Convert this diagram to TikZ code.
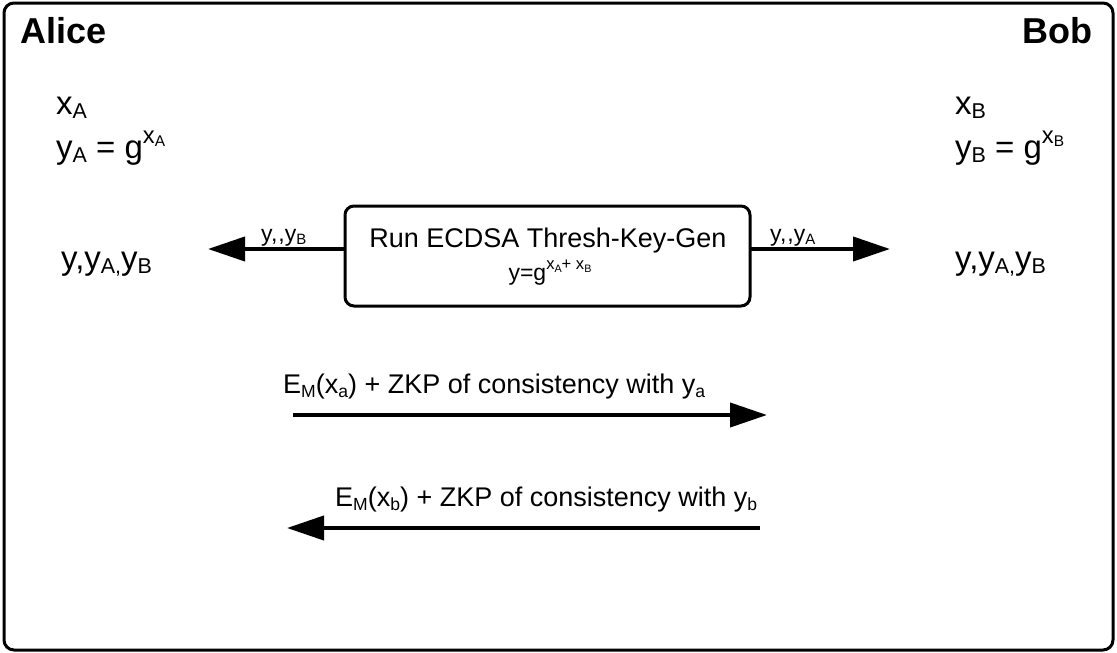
\documentclass[tikz,border=0pt]{standalone}
\usepackage{fontspec}
\usepackage{graphicx}
\setmainfont{Liberation Sans}
\usetikzlibrary{arrows.meta}
% lowered / raised smaller text for indices and exponents
\newcommand{\sbs}[1]{\raisebox{-0.15em}{\scalebox{0.65}{#1}}}
\newcommand{\sps}[1]{\raisebox{0.45em}{\scalebox{0.72}{#1}}}
\tikzset{
  frame/.style={draw, line width=3pt, rounded corners=10pt},
  procbox/.style={draw, line width=3pt, rounded corners=9pt},
  msg/.style={line width=4pt, -{Triangle[length=37pt,width=24pt]}},
  who/.style={font=\fontsize{36}{42}\selectfont\bfseries, inner sep=0pt},
  val/.style={font=\fontsize{33}{38}\selectfont, inner sep=0pt},
  small/.style={font=\fontsize{23}{27}\selectfont, inner sep=0pt},
  label/.style={font=\fontsize{27}{32}\selectfont, inner sep=0pt},
}
\begin{document}
\begin{tikzpicture}[x=1pt,y=-1pt]
\useasboundingbox (0,0) rectangle (1117,653);
\draw[frame] (4,3) rectangle (1113,650);

\node[who, anchor=base west] (alice) at (20,43) {Alice};
\node[who, anchor=base east] (bob) at (1093,43) {Bob};

\node[val, anchor=base west] (xa) at (56,114) {x\sbs{A}};
\node[val, anchor=base west] (ya) at (56,158) {y\sbs{A} = g\sps{x\sbs{A}}};
\node[val, anchor=base west] (xb) at (955,114) {x\sbs{B}};
\node[val, anchor=base west] (yb) at (955,158) {y\sbs{B} = g\sps{x\sbs{B}}};

\node[val, anchor=base west] (keya) at (61,269) {y,y\sbs{A,}y\sbs{B}};
\node[val, anchor=base west] (keyb) at (955,269) {y,y\sbs{A,}y\sbs{B}};

\draw[procbox] (345,206) rectangle (750,306);
\coordinate (boxw) at (345,249);
\coordinate (boxe) at (750,249);
\node[label, anchor=base] (run) at (548,247) {Run ECDSA Thresh-Key-Gen};
\node[font=\fontsize{23}{27}\selectfont, inner sep=0pt, anchor=base] (pub) at (550,280)
  {y=g\sps{x\sbs{A}+ x\sbs{B}}};

\coordinate (tipa) at (208,249);
\coordinate (tipb) at (890,249);
\draw[msg] (boxw) -- (tipa);
\draw[msg] (boxe) -- (tipb);
\node[small, anchor=base west] (la) at (261,241) {y,\kern1pt,y\sbs{B}};
\node[small, anchor=base west] (lb) at (770,241) {y,\kern1pt,y\sbs{A}};

\coordinate (m1s) at (293,415);
\coordinate (m1e) at (767,415);
\draw[msg] (m1s) -- (m1e);
\node[label, anchor=base west] (m1) at (283,393) {E\sbs{M}(x\sbs{a}) + ZKP of consistency with y\sbs{a}};

\coordinate (m2s) at (760,528);
\coordinate (m2e) at (287,528);
\draw[msg] (m2s) -- (m2e);
\node[label, anchor=base west] (m2) at (335,506) {E\sbs{M}(x\sbs{b}) + ZKP of consistency with y\sbs{b}};
\end{tikzpicture}
\end{document}
